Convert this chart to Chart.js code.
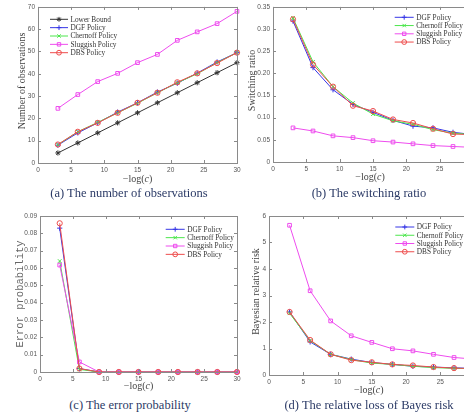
<!DOCTYPE html>
<html>
<head>
<meta charset="utf-8">
<script src="https://cdn.jsdelivr.net/npm/chart.js@4.4.1/dist/chart.umd.min.js"></script>
<style>
  html, body { margin: 0; padding: 0; background: #fff; }
  #page { position: relative; width: 464px; height: 417px; overflow: hidden; }
  .panel { position: absolute; }
  .caption {
    position: absolute; width: 232px; text-align: center;
    font-family: 'Liberation Serif', 'Times New Roman', serif;
    font-size: 12.5px; line-height: 15px; color: #2b3a66; white-space: nowrap;
  }
</style>
</head>
<body>
<div id="page">
  <div class="panel" style="left:0;top:0;width:245px;height:190px"><canvas id="chart-a"></canvas></div>
  <div class="panel" style="left:232px;top:0;width:250px;height:190px"><canvas id="chart-b"></canvas></div>
  <div class="panel" style="left:0;top:205px;width:245px;height:190px"><canvas id="chart-c"></canvas></div>
  <div class="panel" style="left:232px;top:205px;width:250px;height:190px"><canvas id="chart-d"></canvas></div>
  <div class="caption" style="left:13px;top:186px">(a) The number of observations</div>
  <div class="caption" style="left:253px;top:186px">(b) The switching ratio</div>
  <div class="caption" style="left:14px;top:398px">(c) The error probability</div>
  <div class="caption" style="left:253px;top:398px">(d) The relative loss of Bayes risk</div>
</div>

<script>
// x values shared by every panel: -log(c)
const xValues = [3, 6, 9, 12, 15, 18, 21, 24, 27, 30];

// (a) number of observations
const obsLowerBound = [4.5, 9, 13.5, 18, 22.5, 27, 31.5, 36, 40.5, 45];
const obsDGF        = [8, 13.5, 18, 22.8, 27, 31.8, 35.8, 40.3, 45.3, 49.5];
const obsChernoff   = [8.2, 14, 18.2, 22.5, 26.8, 31.5, 36, 40, 45, 49.5];
const obsSluggish   = [24.5, 30.7, 36.5, 40.2, 45, 48.7, 55, 58.8, 62.5, 68];
const obsDBS        = [8.3, 14, 18, 22.5, 27, 31.5, 36.2, 40.2, 44.8, 49.5];

// (b) switching ratio
const swDGF      = [0.318, 0.213, 0.163, 0.13, 0.112, 0.094, 0.081, 0.077, 0.067, 0.062];
const swChernoff = [0.325, 0.226, 0.17, 0.133, 0.108, 0.093, 0.085, 0.073, 0.065, 0.062];
const swSluggish = [0.077, 0.07, 0.059, 0.055, 0.048, 0.045, 0.041, 0.037, 0.035, 0.033];
const swDBS      = [0.322, 0.22, 0.17, 0.127, 0.115, 0.096, 0.088, 0.075, 0.063, 0.062];

// (c) error probability
const errDGF      = [0.083, 0.002, 0, 0, 0, 0, 0, 0, 0, 0];
const errChernoff = [0.064, 0.0015, 0, 0, 0, 0, 0, 0, 0, 0];
const errSluggish = [0.0617, 0.0058, 0, 0, 0, 0, 0, 0, 0, 0];
const errDBS      = [0.0858, 0.002, 0, 0, 0, 0, 0, 0, 0, 0];

// (d) Bayesian relative risk
const riskDGF      = [2.38, 1.25, 0.78, 0.6, 0.47, 0.4, 0.33, 0.3, 0.27, 0.25];
const riskChernoff = [2.33, 1.3, 0.78, 0.58, 0.45, 0.4, 0.33, 0.28, 0.25, 0.24];
const riskSluggish = [5.65, 3.18, 2.04, 1.48, 1.23, 0.99, 0.91, 0.78, 0.66, 0.6];
const riskDBS      = [2.38, 1.32, 0.78, 0.56, 0.48, 0.4, 0.36, 0.3, 0.26, 0.24];

const seriesStyle = {
    'Lower Bound':     { color: '#333333', pointStyle: 'star' },
    'DGF Policy':      { color: '#3636e6', pointStyle: 'cross' },
    'Chernoff Policy': { color: '#4ce64c', pointStyle: 'crossRot' },
    'Sluggish Policy': { color: '#ee4cee', pointStyle: 'rect' },
    'DBS Policy':      { color: '#ee4c4c', pointStyle: 'circle' }
};

const tickFont = { family: 'Liberation Sans, Arial, sans-serif', size: 6.5 };

function makeDataset(label, values, index, total) {
    const style = seriesStyle[label];
    return {
        label: label,
        data: xValues.map((x, i) => ({ x: x, y: values[i] })),
        borderColor: style.color,
        backgroundColor: 'rgba(0,0,0,0)',
        borderWidth: 1,
        pointStyle: style.pointStyle,
        pointRadius: 2.6,
        pointBorderWidth: 1,
        pointBorderColor: style.color,
        pointBackgroundColor: 'rgba(0,0,0,0)',
        tension: 0,
        clip: false,
        order: total - index
    };
}

// legend with line + marker, like matlab
const matlabLegend = {
    id: 'matlabLegend',
    afterDraw(chart, args, opts) {
        const ctx = chart.ctx;
        ctx.save();
        ctx.font = '7.3px "Liberation Serif", serif';
        ctx.textBaseline = 'middle';
        ctx.textAlign = 'left';
        chart.data.datasets.forEach((ds, i) => {
            const y = opts.y + i * opts.rowH;
            const x = opts.x;
            ctx.strokeStyle = ds.borderColor;
            ctx.fillStyle = 'rgba(0,0,0,0)';
            ctx.lineWidth = 1;
            ctx.beginPath();
            ctx.moveTo(x, y);
            ctx.lineTo(x + opts.lineLen, y);
            ctx.stroke();
            Chart.helpers.drawPoint(ctx, { pointStyle: ds.pointStyle, radius: 2.4, borderWidth: 1, rotation: 0 },
                x + opts.lineLen / 2, y);
            ctx.fillStyle = '#333';
            ctx.fillText(ds.label, x + opts.lineLen + 2.5, y + 0.5);
        });
        ctx.restore();
    }
};

// box around the axes, ticks pointing inwards, axis titles
const matlabAxes = {
    id: 'matlabAxes',
    afterDraw(chart, args, opts) {
        const ctx = chart.ctx;
        const a = chart.chartArea;
        const xs = chart.scales.x;
        const ys = chart.scales.y;
        ctx.save();
        ctx.strokeStyle = '#8a8a8a';
        ctx.lineWidth = 1;
        ctx.strokeRect(Math.round(a.left) + 0.5, Math.round(a.top) + 0.5,
            Math.round(a.right - a.left), Math.round(a.bottom - a.top));
        ctx.beginPath();
        xs.ticks.forEach(t => {
            const px = Math.round(xs.getPixelForValue(t.value)) + 0.5;
            ctx.moveTo(px, a.bottom); ctx.lineTo(px, a.bottom - 3);
            ctx.moveTo(px, a.top); ctx.lineTo(px, a.top + 3);
        });
        ys.ticks.forEach(t => {
            const py = Math.round(ys.getPixelForValue(t.value)) + 0.5;
            ctx.moveTo(a.left, py); ctx.lineTo(a.left + 3, py);
            ctx.moveTo(a.right, py); ctx.lineTo(a.right - 3, py);
        });
        ctx.stroke();

        // x title: −log(c) with italic c
        ctx.fillStyle = '#444';
        ctx.textBaseline = 'middle';
        const cx = (a.left + a.right) / 2 + (opts.xTitleShift || 0);
        const serif = '10px "Liberation Serif", serif';
        const italic = 'italic 10px "Liberation Serif", serif';
        ctx.font = serif;
        const p1 = '\u2212log(';
        const w1 = ctx.measureText(p1).width;
        const w3 = ctx.measureText(')').width;
        ctx.font = italic;
        const w2 = ctx.measureText('c').width;
        let x = cx - (w1 + w2 + w3) / 2;
        ctx.textAlign = 'left';
        ctx.font = serif;
        ctx.fillText(p1, x, opts.xTitleY);
        ctx.font = italic;
        ctx.fillText('c', x + w1, opts.xTitleY);
        ctx.font = serif;
        ctx.fillText(')', x + w1 + w2, opts.xTitleY);

        // y title
        ctx.save();
        ctx.translate(a.left - opts.yTitleOffset, (a.top + a.bottom) / 2 + (opts.yTitleShift || 0));
        ctx.rotate(-Math.PI / 2);
        ctx.textAlign = 'center';
        ctx.font = opts.yFont || serif;
        ctx.fillStyle = opts.yColor || '#444';
        ctx.fillText(opts.yTitle, 0, 0);
        ctx.restore();
        ctx.restore();
    }
};

function makeChart(id, datasets, cfg) {
    return new Chart(document.getElementById(id), {
        type: 'line',
        data: { datasets: datasets },
        plugins: [matlabAxes, matlabLegend],
        options: {
            responsive: true,
            maintainAspectRatio: false,
            animation: false,
            devicePixelRatio: 1,
            layout: { padding: cfg.padding },
            plugins: {
                legend: { display: false },
                tooltip: { enabled: false },
                matlabLegend: cfg.legend,
                matlabAxes: cfg.axes
            },
            scales: {
                x: {
                    type: 'linear', min: 0, max: 30,
                    grid: { display: false, drawTicks: false },
                    border: { display: false },
                    ticks: { stepSize: 5, font: tickFont, color: '#555', padding: 3, maxRotation: 0 },
                    afterFit: s => { s.height = cfg.xHeight; }
                },
                y: {
                    min: cfg.yMin, max: cfg.yMax,
                    grid: { display: false, drawTicks: false },
                    border: { display: false },
                    ticks: { stepSize: cfg.yStep, font: tickFont, color: '#555', padding: 3 },
                    afterFit: s => { s.width = cfg.yWidth; }
                }
            }
        }
    });
}

function buildSets(labels, arrays) {
    return labels.map((l, i) => makeDataset(l, arrays[i], i, labels.length));
}

const policies4 = ['DGF Policy', 'Chernoff Policy', 'Sluggish Policy', 'DBS Policy'];

makeChart('chart-a',
    buildSets(['Lower Bound'].concat(policies4), [obsLowerBound, obsDGF, obsChernoff, obsSluggish, obsDBS]),
    {
        padding: { left: 0, top: 6, right: 8, bottom: 0 },
        yWidth: 38, xHeight: 27, yMin: 0, yMax: 70, yStep: 10,
        legend: { x: 50, y: 19.3, rowH: 8.35, lineLen: 18 },
        axes: { xTitleY: 179, yTitleOffset: 15.3, yTitle: 'Number of observations', yTitleShift: -4 }
    });

makeChart('chart-b',
    buildSets(policies4, [swDGF, swChernoff, swSluggish, swDBS]),
    {
        padding: { left: 0, top: 6, right: 9, bottom: 0 },
        yWidth: 41, xHeight: 28, yMin: 0, yMax: 0.35, yStep: 0.05,
        legend: { x: 162.7, y: 17.3, rowH: 8.25, lineLen: 19 },
        axes: { xTitleY: 177, yTitleOffset: 20.3, yTitle: 'Switching ratio', yTitleShift: -4, xTitleShift: -3 }
    });

makeChart('chart-c',
    buildSets(policies4, [errDGF, errChernoff, errSluggish, errDBS]),
    {
        padding: { left: 0, top: 11, right: 8, bottom: 0 },
        yWidth: 40, xHeight: 23, yMin: 0, yMax: 0.09, yStep: 0.01,
        legend: { x: 165.7, y: 24.3, rowH: 8.35, lineLen: 19 },
        axes: { xTitleY: 181.7, yTitleOffset: 19.3, yTitle: 'Error probability', yColor: '#666',
                yFont: '10.5px "Liberation Mono", "DejaVu Sans Mono", monospace' }
    });

makeChart('chart-d',
    buildSets(policies4, [riskDGF, riskChernoff, riskSluggish, riskDBS]),
    {
        padding: { left: 0, top: 11, right: 7.4, bottom: 0 },
        yWidth: 37, xHeight: 20, yMin: 0, yMax: 6, yStep: 1,
        legend: { x: 163.3, y: 22, rowH: 8.25, lineLen: 19 },
        axes: { xTitleY: 185.7, yTitleOffset: 13, yTitle: 'Bayesian relative risk', yTitleShift: -4, xTitleShift: -3 }
    });
</script>
</body>
</html>
